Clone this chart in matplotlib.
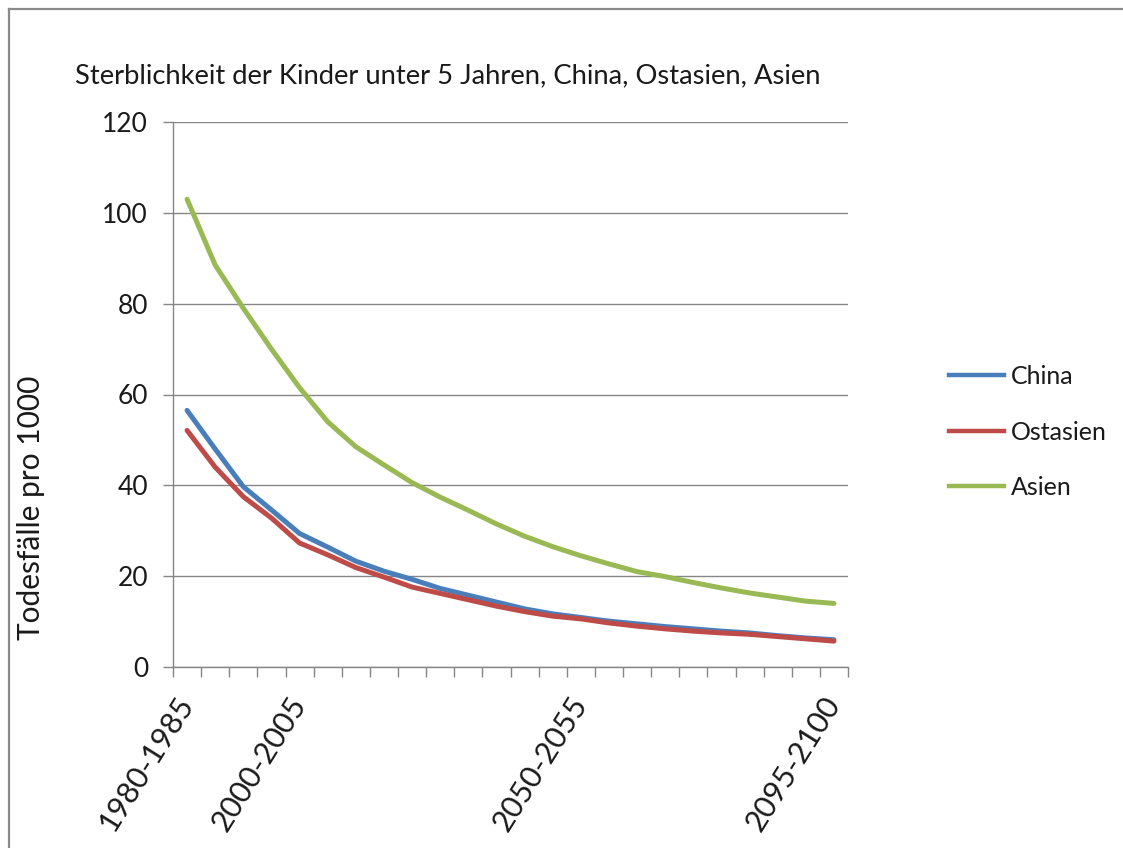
import matplotlib
matplotlib.use("Agg")
import matplotlib.pyplot as plt
from matplotlib.lines import Line2D
import numpy as np

# Five-year periods 1980-1985 ... 2095-2100
periods = [f"{y}-{y + 5}" for y in range(1980, 2100, 5)]
labelled_periods = ["1980-1985", "2000-2005", "2050-2055", "2095-2100"]

# Under-five mortality, deaths per 1000 live births
china = [56.5, 48.0, 39.7, 34.6, 29.4, 26.4, 23.3, 21.1, 19.3, 17.3, 15.8, 14.3,
         12.8, 11.7, 10.9, 10.1, 9.5, 8.9, 8.4, 7.9, 7.5, 6.9, 6.4, 6.0]
ostasien = [52.1, 44.0, 37.5, 32.8, 27.3, 24.7, 21.9, 19.8, 17.6, 16.2, 14.8, 13.4,
            12.2, 11.2, 10.6, 9.7, 9.0, 8.4, 7.9, 7.5, 7.2, 6.7, 6.2, 5.7]
asien = [103.0, 88.5, 79.0, 70.0, 61.5, 54.0, 48.5, 44.5, 40.6, 37.4, 34.5, 31.5,
         28.8, 26.5, 24.5, 22.7, 21.0, 19.9, 18.6, 17.4, 16.3, 15.4, 14.5, 14.0]

series = [("China", china, "#4A7EBB"),
          ("Ostasien", ostasien, "#BE4B48"),
          ("Asien", asien, "#98B954")]

plt.rcParams["font.family"] = ["Lato", "DejaVu Sans"]

W, H = 1123, 848
fig = plt.figure(figsize=(W / 100, H / 100), dpi=100)
fig.patch.set_facecolor("white")

grey = "#868686"
ink = "#1a1a1a"

# outer chart frame (top and left edges visible)
fig.add_artist(Line2D([9 / W, 1.01], [1 - 9 / H, 1 - 9 / H], color="#8a8a8a", lw=1.6,
                      transform=fig.transFigure))
fig.add_artist(Line2D([9 / W, 9 / W], [1 - 9 / H, -0.01], color="#8a8a8a", lw=1.6,
                      transform=fig.transFigure))

ax = fig.add_axes([173 / W, 1 - 667 / H, 675 / W, 545 / H])
x = np.arange(len(periods))
for name, vals, col in series:
    ax.plot(x, vals, color=col, lw=3.6, label=name, solid_capstyle="round",
            solid_joinstyle="round")

ax.set_xlim(-0.5, len(periods) - 0.5)
ax.set_ylim(0, 120)
ax.set_yticks(np.arange(0, 121, 20))
ax.yaxis.grid(True, color=grey, lw=1.0)
ax.set_axisbelow(True)

for s in ("top", "right"):
    ax.spines[s].set_visible(False)
for s in ("left", "bottom"):
    ax.spines[s].set_color(grey)
    ax.spines[s].set_linewidth(1.0)

ax.tick_params(axis="y", length=7, width=1.0, color=grey, labelsize=19, pad=11,
               labelcolor=ink)

# category boundary ticks and a few period labels
ax.set_xticks(np.arange(-0.5, len(periods), 1.0), minor=True)
ax.tick_params(axis="x", which="minor", length=7, width=1.0, color=grey)
ax.set_xticks([periods.index(p) for p in labelled_periods])
ax.set_xticklabels(labelled_periods, rotation=58, ha="right", va="center",
                   rotation_mode="anchor", fontsize=22, color=ink)
ax.tick_params(axis="x", which="major", length=0, pad=23)

ax.set_ylabel("Todesfälle pro 1000", fontsize=21.5, color=ink)
ax.yaxis.set_label_coords((45 - 173) / 675, (667 - 508) / 545)

fig.text(75 / W, 1 - 76 / H, "Sterblichkeit der Kinder unter 5 Jahren, China, Ostasien, Asien",
         fontsize=19.7, color=ink, ha="left", va="center")

handles = [Line2D([], [], color=c, lw=3.2) for _, _, c in series]
fig.legend(handles, [n for n, _, _ in series], loc="center left",
           bbox_to_anchor=(926 / W, 1 - 432 / H), frameon=False, fontsize=18,
           handlelength=2.2, handletextpad=0.3, labelspacing=1.3, labelcolor=ink)

fig.savefig("out.png", dpi=100, facecolor="white")
